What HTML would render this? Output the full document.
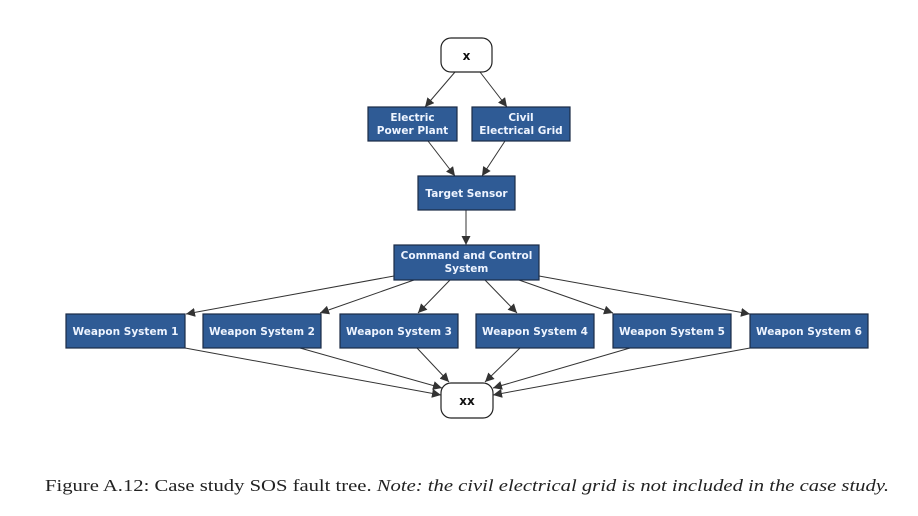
<!DOCTYPE html>
<html><head><meta charset="utf-8"><style>
html,body{margin:0;padding:0;background:#fff;width:918px;height:516px;overflow:hidden}
svg{display:block}
.b{fill:#2f5b95;stroke:#1b2b45;stroke-width:1.2}
.t{font-family:"DejaVu Sans","Liberation Sans",sans-serif;font-size:10.5px;font-weight:bold;fill:#eef4ff;text-anchor:middle}
.e{stroke:#333;stroke-width:1;fill:none;marker-end:url(#a)}
</style></head><body>
<svg width="918" height="516" viewBox="0 0 918 516">
<defs><marker id="a" viewBox="0 0 10 10" refX="10" refY="5" markerWidth="9" markerHeight="9" orient="auto" markerUnits="userSpaceOnUse"><path d="M0,0L10,5L0,10z" fill="#333"/></marker></defs>
<line class="e" x1="455" y1="72" x2="425" y2="107"/>
<line class="e" x1="480" y1="72" x2="507" y2="107"/>
<line class="e" x1="428" y1="141" x2="455" y2="176"/>
<line class="e" x1="505" y1="141" x2="482" y2="176"/>
<line class="e" x1="466" y1="210" x2="466" y2="245"/>
<line class="e" x1="394" y1="276" x2="186" y2="314"/>
<line class="e" x1="414" y1="280" x2="320" y2="313"/>
<line class="e" x1="450" y1="280" x2="418" y2="313"/>
<line class="e" x1="485" y1="280" x2="517" y2="313"/>
<line class="e" x1="519" y1="280" x2="613" y2="313"/>
<line class="e" x1="539" y1="276" x2="750" y2="314"/>
<line class="e" x1="185" y1="348" x2="441" y2="395"/>
<line class="e" x1="300" y1="348" x2="442" y2="388"/>
<line class="e" x1="417" y1="348" x2="449" y2="382"/>
<line class="e" x1="520" y1="348" x2="485" y2="382"/>
<line class="e" x1="630" y1="348" x2="493" y2="388"/>
<line class="e" x1="750" y1="348" x2="493" y2="395"/>
<rect x="441" y="38" width="51" height="34" rx="10" fill="#fff" stroke="#222" stroke-width="1.2"/>
<text x="466.5" y="60" class="t" style="fill:#111;font-size:12px">x</text>
<rect class="b" x="368" y="107" width="89" height="34"/>
<text class="t" x="412.5" y="121">Electric</text><text class="t" x="412.5" y="134">Power Plant</text>
<rect class="b" x="472" y="107" width="98" height="34"/>
<text class="t" x="521" y="121">Civil</text><text class="t" x="521" y="134">Electrical Grid</text>
<rect class="b" x="418" y="176" width="97" height="34"/>
<text class="t" x="466.5" y="197">Target Sensor</text>
<rect class="b" x="394" y="245" width="145" height="35"/>
<text class="t" x="466.5" y="259">Command and Control</text><text class="t" x="466.5" y="272">System</text>
<rect class="b" x="66" y="314" width="119" height="34"/><text class="t" x="125.5" y="335">Weapon System 1</text>
<rect class="b" x="203" y="314" width="118" height="34"/><text class="t" x="262" y="335">Weapon System 2</text>
<rect class="b" x="340" y="314" width="118" height="34"/><text class="t" x="399" y="335">Weapon System 3</text>
<rect class="b" x="476" y="314" width="118" height="34"/><text class="t" x="535" y="335">Weapon System 4</text>
<rect class="b" x="613" y="314" width="118" height="34"/><text class="t" x="672" y="335">Weapon System 5</text>
<rect class="b" x="750" y="314" width="118" height="34"/><text class="t" x="809" y="335">Weapon System 6</text>
<rect x="441" y="383" width="52" height="35" rx="10" fill="#fff" stroke="#222" stroke-width="1.2"/>
<text x="467" y="405" class="t" style="fill:#111;font-size:12px">xx</text>
<text x="45" y="491" font-family="Liberation Serif,serif" font-size="16.5" fill="#222" textLength="844" lengthAdjust="spacingAndGlyphs">Figure A.12: Case study SOS fault tree. <tspan font-style="italic">Note: the civil electrical grid is not included in the case study.</tspan></text>
</svg>
</body></html>
